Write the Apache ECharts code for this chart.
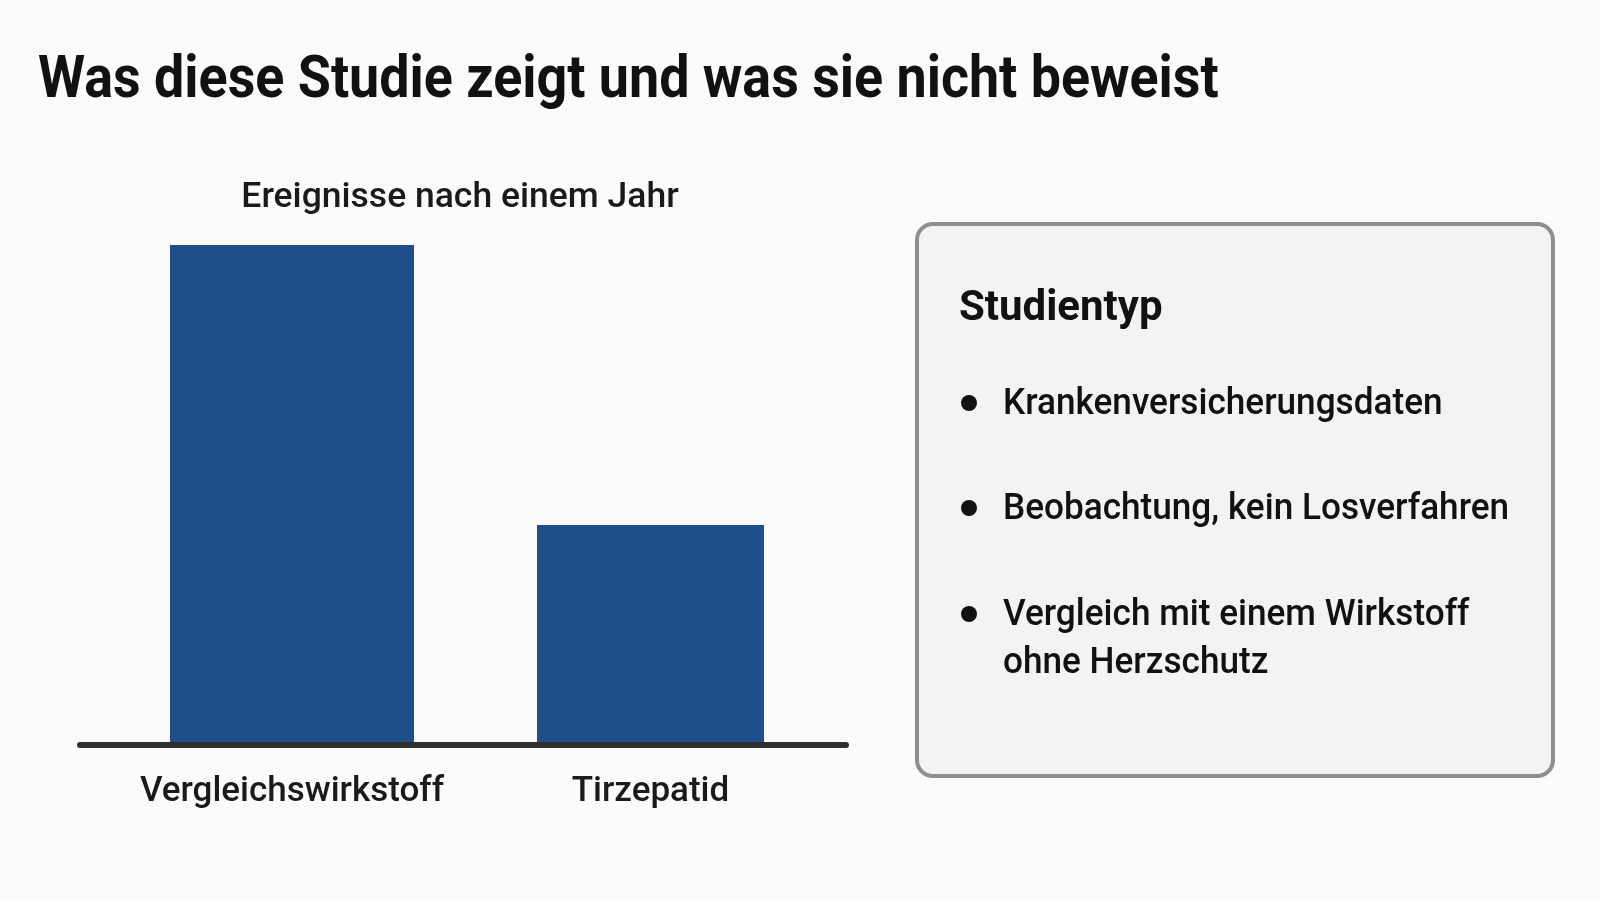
<!DOCTYPE html>
<html>
<head>
<meta charset="utf-8">
<title>Was diese Studie zeigt</title>
<script src="https://cdn.jsdelivr.net/npm/echarts@6/dist/echarts.min.js"></script>
<style>
html,body{margin:0;padding:0;background:#fbfbfb;}
#main{width:1600px;height:900px;}
</style>
</head>
<body>
<div id="main"></div>
<script>
// Daten
var categories = ['Vergleichswirkstoff', 'Tirzepatid'];
var events = [100, 44];
var barColor = '#1f4f8a';
var boxTitle = 'Studientyp';
var boxItems = [
    ['Krankenversicherungsdaten'],
    ['Beobachtung, kein Losverfahren'],
    ['Vergleich mit einem Wirkstoff', 'ohne Herzschutz']
];

var FONT = 'Roboto, "Noto Sans", sans-serif';

function drawBars(el){
    var domx = document.getElementById(el);
    var myChart = echarts.init(domx);

    // je Balken eine eigene Serie, damit die Breiten verschieden sein duerfen
    var d1 = [events[0], '-'];
    var d2 = ['-', events[1]];

    option = {
        backgroundColor: '#fbfbfb',
        animation: false,
        title : [
            {
                text: 'Ereignisse nach einem Jahr',
                left: 455,
                top: 175,
                textAlign: 'center',
                textStyle: {fontFamily: FONT, fontSize: 35.5, fontWeight: 500, color: '#1a1a1a'}
            }
        ],
        // Serie 1 liegt wegen barGap -100% um ~8px rechts der Mitte, daher Raster etwas breiter
        grid: {left: 100, right: 766, top: 245, bottom: 155},
        xAxis : [
            {
                type : 'category',
                data : [
                    {value: categories[0], textStyle: {padding: [0, 0, 0, 17]}},
                    categories[1]
                ],
                axisLine: {show: false},
                axisTick: {show: false},
                axisLabel: {
                    interval: 0,
                    margin: 30,
                    fontFamily: FONT,
                    fontSize: 35,
                    fontWeight: 500,
                    color: '#1a1a1a'
                }
            }
        ],
        yAxis : [
            {
                type : 'value',
                min: 0,
                max: 100,
                show: false
            }
        ],
        series : [
            {
                name: categories[0],
                type: 'bar',
                data: d1,
                barWidth: 244,
                barGap: '-100%',
                itemStyle: {color: barColor}
            },
            {
                name: categories[1],
                type: 'bar',
                data: d2,
                barWidth: 227,
                barGap: '-100%',
                itemStyle: {color: barColor}
            }
        ]
    };
    myChart.setOption(option, true);

    // Titel, Grundlinie und Infokasten
    var y0 = myChart.convertToPixel({yAxisIndex: 0}, 0);
    var gfx = [
        {
            type: 'text',
            x: 38,
            y: 82,
            scaleX: 0.897,
            style: {
                text: 'Was diese Studie zeigt und was sie nicht beweist',
                font: 'bold 60px ' + FONT,
                fill: '#111',
                verticalAlign: 'middle'
            }
        },
        {
            type: 'line',
            shape: {x1: 80, y1: y0, x2: 846, y2: y0},
            style: {stroke: '#2e2e2e', lineWidth: 6, lineCap: 'round'},
            z: 10
        },
        {
            type: 'rect',
            shape: {x: 917, y: 224, width: 636, height: 552, r: 16},
            style: {fill: '#f3f3f3', stroke: '#8e8e8e', lineWidth: 4}
        },
        {
            type: 'text',
            x: 959,
            y: 309,
            style: {text: boxTitle, font: 'bold 42px ' + FONT, fill: '#111', verticalAlign: 'middle'}
        }
    ];
    var rowY = [404, 509, 615];
    var lineH = 48;
    for (var i = 0; i < boxItems.length; i++) {
        gfx.push({
            type: 'circle',
            shape: {cx: 969, cy: rowY[i] - 1, r: 8},
            style: {fill: '#111'}
        });
        for (var j = 0; j < boxItems[i].length; j++) {
            gfx.push({
                type: 'text',
                x: 1003,
                y: rowY[i] + 1 + j * lineH,
                scaleX: 0.95,
                style: {text: boxItems[i][j], font: '500 37px ' + FONT, fill: '#111', verticalAlign: 'middle'}
            });
        }
    }
    myChart.setOption({graphic: gfx});
}

drawBars('main');
</script>
</body>
</html>
